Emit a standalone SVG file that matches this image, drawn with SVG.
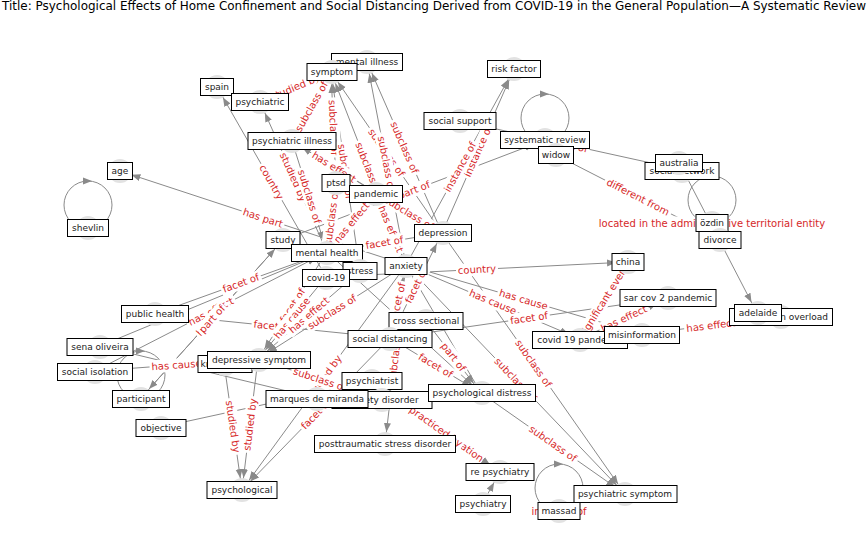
<svg xmlns="http://www.w3.org/2000/svg" width="868" height="559" viewBox="0 0 868 559">
<style>
.e line{stroke:#8a8a8a;stroke-width:1;fill:none;marker-end:url(#a)}
.e circle{stroke:#8a8a8a;stroke-width:1;fill:none}
.e polygon{fill:#8a8a8a}
.l rect{fill:#fff}
.l text{font-family:"DejaVu Sans",sans-serif;font-size:10px;fill:#d62728;text-anchor:middle}
.n circle{fill:#e2e2e2}
.n rect{fill:#fff;stroke:#000;stroke-width:1}
.n text{font-family:"DejaVu Sans",sans-serif;font-size:9px;fill:#222;text-anchor:middle}
.t{font-family:"DejaVu Sans",sans-serif;font-size:12px;fill:#000;text-anchor:middle}
</style>
<defs>
<marker id="a" markerUnits="userSpaceOnUse" markerWidth="10" markerHeight="8" refX="21" refY="3.5" orient="auto"><path d="M0,0 L9,3.5 L0,7 z" fill="#8a8a8a"/></marker>
</defs>
<rect width="868" height="559" fill="#fff"/>
<text class="t" x="434" y="10" textLength="864" lengthAdjust="spacingAndGlyphs">Title: Psychological Effects of Home Confinement and Social Distancing Derived from COVID-19 in the General Population—A Systematic Review</text>
<g id="connectors" class="e">
<line x1="326" y1="277" x2="217" y2="87"/>
<line x1="327" y1="252" x2="260" y2="102"/>
<line x1="331" y1="72" x2="260" y2="102"/>
<line x1="331" y1="72" x2="292" y2="141"/>
<line x1="336" y1="183" x2="331" y2="72"/>
<line x1="360" y1="271" x2="331" y2="72"/>
<line x1="406" y1="265" x2="331" y2="72"/>
<line x1="442" y1="233" x2="331" y2="72"/>
<line x1="442" y1="233" x2="367" y2="62"/>
<line x1="406" y1="265" x2="367" y2="62"/>
<line x1="442" y1="233" x2="514" y2="69"/>
<line x1="406" y1="265" x2="514" y2="69"/>
<line x1="283" y1="240" x2="545" y2="140"/>
<line x1="460" y1="121" x2="683" y2="170"/>
<line x1="556" y1="155" x2="720" y2="239"/>
<line x1="683" y1="170" x2="757" y2="313"/>
<line x1="641" y1="334" x2="781" y2="317"/>
<line x1="580" y1="339" x2="628" y2="262"/>
<line x1="580" y1="339" x2="668" y2="298"/>
<line x1="326" y1="277" x2="628" y2="262"/>
<line x1="406" y1="265" x2="641" y2="334"/>
<line x1="406" y1="265" x2="580" y2="339"/>
<line x1="390" y1="338" x2="668" y2="298"/>
<line x1="442" y1="233" x2="625" y2="494"/>
<line x1="406" y1="265" x2="625" y2="494"/>
<line x1="481" y1="393" x2="625" y2="494"/>
<line x1="224" y1="363" x2="242" y2="490"/>
<line x1="258" y1="359" x2="242" y2="490"/>
<line x1="406" y1="265" x2="242" y2="490"/>
<line x1="390" y1="338" x2="242" y2="490"/>
<line x1="283" y1="240" x2="141" y2="398"/>
<line x1="141" y1="398" x2="283" y2="240"/>
<line x1="155" y1="314" x2="327" y2="252"/>
<line x1="155" y1="314" x2="390" y2="338"/>
<line x1="95" y1="371" x2="327" y2="252"/>
<line x1="100" y1="346" x2="327" y2="252"/>
<line x1="95" y1="371" x2="258" y2="359"/>
<line x1="316" y1="398" x2="100" y2="346"/>
<line x1="326" y1="277" x2="258" y2="359"/>
<line x1="327" y1="252" x2="258" y2="359"/>
<line x1="360" y1="271" x2="258" y2="359"/>
<line x1="406" y1="265" x2="258" y2="359"/>
<line x1="376" y1="193" x2="327" y2="252"/>
<line x1="376" y1="193" x2="406" y2="265"/>
<line x1="336" y1="183" x2="327" y2="252"/>
<line x1="292" y1="141" x2="327" y2="252"/>
<line x1="376" y1="193" x2="292" y2="141"/>
<line x1="292" y1="141" x2="442" y2="233"/>
<line x1="406" y1="265" x2="120" y2="171"/>
<line x1="390" y1="338" x2="442" y2="233"/>
<line x1="390" y1="338" x2="406" y2="265"/>
<line x1="481" y1="393" x2="406" y2="265"/>
<line x1="426" y1="321" x2="481" y2="393"/>
<line x1="390" y1="338" x2="481" y2="393"/>
<line x1="327" y1="252" x2="481" y2="393"/>
<line x1="372" y1="381" x2="500" y2="472"/>
<line x1="500" y1="472" x2="372" y2="381"/>
<line x1="482" y1="504" x2="500" y2="472"/>
<line x1="406" y1="265" x2="385" y2="444"/>
<line x1="161" y1="427" x2="372" y2="381"/>
<line x1="258" y1="359" x2="382" y2="400"/>
<line x1="376" y1="193" x2="442" y2="233"/>
<line x1="327" y1="252" x2="442" y2="233"/>
<circle cx="88" cy="205" r="24"/><polygon points="83,177.5 92,181 83,184.5"/>
<circle cx="545" cy="118" r="24"/><polygon points="540,90.5 549,94 540,97.5"/>
<circle cx="712" cy="200" r="24"/><polygon points="707,172.5 716,176 707,179.5"/>
<circle cx="559" cy="488" r="24"/><polygon points="554,460.5 563,464 554,467.5"/>
<circle cx="141" cy="375" r="24"/><polygon points="136,347.5 145,351 136,354.5"/>
</g>
<g id="edge-labels" class="l">
<g transform="translate(271.5,182) rotate(60.2)"><rect x="-21" y="-6.5" width="42" height="13"/><text y="3.5">country</text></g>
<g transform="translate(293.5,177) rotate(65.9)"><rect x="-28.5" y="-6.5" width="57" height="13"/><text y="3.5">studied by</text></g>
<g transform="translate(295.5,87) rotate(-22.9)"><rect x="-28.5" y="-6.5" width="57" height="13"/><text y="3.5">studied by</text></g>
<g transform="translate(311.5,106.5) rotate(-60.5)"><rect x="-30" y="-6.5" width="60" height="13"/><text y="3.5">subclass of</text></g>
<g transform="translate(333.5,127.5) rotate(87.4)"><rect x="-30" y="-6.5" width="60" height="13"/><text y="3.5">subclass of</text></g>
<g transform="translate(345.5,171.5) rotate(81.7)"><rect x="-30" y="-6.5" width="60" height="13"/><text y="3.5">subclass of</text></g>
<g transform="translate(368.5,168.5) rotate(68.8)"><rect x="-30" y="-6.5" width="60" height="13"/><text y="3.5">subclass of</text></g>
<g transform="translate(386.5,152.5) rotate(55.4)"><rect x="-30" y="-6.5" width="60" height="13"/><text y="3.5">subclass of</text></g>
<g transform="translate(404.5,147.5) rotate(66.3)"><rect x="-30" y="-6.5" width="60" height="13"/><text y="3.5">subclass of</text></g>
<g transform="translate(386.5,163.5) rotate(79.1)"><rect x="-30" y="-6.5" width="60" height="13"/><text y="3.5">subclass of</text></g>
<g transform="translate(478,151) rotate(-66.3)"><rect x="-29.5" y="-6.5" width="59" height="13"/><text y="3.5">instance of</text></g>
<g transform="translate(460,167) rotate(-61.1)"><rect x="-29.5" y="-6.5" width="59" height="13"/><text y="3.5">instance of</text></g>
<g transform="translate(414,190) rotate(-20.9)"><rect x="-18.5" y="-6.5" width="37" height="13"/><text y="3.5">part of</text></g>
<g transform="translate(571.5,145.5) rotate(12.4)"><rect x="-18.5" y="-6.5" width="37" height="13"/><text y="3.5">part of</text></g>
<g transform="translate(638,197) rotate(27.1)"><rect x="-37" y="-6.5" width="74" height="13"/><text y="3.5">different from</text></g>
<g transform="translate(712,223)"><rect x="-116" y="-6.5" width="232" height="13"/><text y="3.5">located in the administrative territorial entity</text></g>
<g transform="translate(711,325.5) rotate(-6.9)"><rect x="-27" y="-6.5" width="54" height="13"/><text y="3.5">has effect</text></g>
<g transform="translate(604,300.5) rotate(-58.1)"><rect x="-43.5" y="-6.5" width="87" height="13"/><text y="3.5">significant event</text></g>
<g transform="translate(624,318.5) rotate(-25)"><rect x="-27" y="-6.5" width="54" height="13"/><text y="3.5">has effect</text></g>
<g transform="translate(477,269.5) rotate(-2.8)"><rect x="-21" y="-6.5" width="42" height="13"/><text y="3.5">country</text></g>
<g transform="translate(523.5,299.5) rotate(16.4)"><rect x="-27" y="-6.5" width="54" height="13"/><text y="3.5">has cause</text></g>
<g transform="translate(493,302) rotate(23)"><rect x="-27" y="-6.5" width="54" height="13"/><text y="3.5">has cause</text></g>
<g transform="translate(529,318) rotate(-8.2)"><rect x="-21" y="-6.5" width="42" height="13"/><text y="3.5">facet of</text></g>
<g transform="translate(533.5,363.5) rotate(55)"><rect x="-30" y="-6.5" width="60" height="13"/><text y="3.5">subclass of</text></g>
<g transform="translate(515.5,379.5) rotate(46.3)"><rect x="-30" y="-6.5" width="60" height="13"/><text y="3.5">subclass of</text></g>
<g transform="translate(553,443.5) rotate(35)"><rect x="-30" y="-6.5" width="60" height="13"/><text y="3.5">subclass of</text></g>
<g transform="translate(559,511)"><rect x="-29.5" y="-6.5" width="59" height="13"/><text y="3.5">instance of</text></g>
<g transform="translate(233,426.5) rotate(81.9)"><rect x="-28.5" y="-6.5" width="57" height="13"/><text y="3.5">studied by</text></g>
<g transform="translate(250,424.5) rotate(-83)"><rect x="-28.5" y="-6.5" width="57" height="13"/><text y="3.5">studied by</text></g>
<g transform="translate(324,377.5) rotate(-53.9)"><rect x="-28.5" y="-6.5" width="57" height="13"/><text y="3.5">studied by</text></g>
<g transform="translate(316,414) rotate(-45.8)"><rect x="-21" y="-6.5" width="42" height="13"/><text y="3.5">facet of</text></g>
<g transform="translate(211,311.5) rotate(-27.2)"><rect x="-27" y="-6.5" width="54" height="13"/><text y="3.5">has effect</text></g>
<g transform="translate(212,319) rotate(-48.1)"><rect x="-22.5" y="-6.5" width="45" height="13"/><text y="3.5">has part</text></g>
<g transform="translate(212,319) rotate(-48.1)"><rect x="-18.5" y="-6.5" width="37" height="13"/><text y="3.5">part of</text></g>
<g transform="translate(241,283) rotate(-19.8)"><rect x="-21" y="-6.5" width="42" height="13"/><text y="3.5">facet of</text></g>
<g transform="translate(272.5,326) rotate(5.8)"><rect x="-21" y="-6.5" width="42" height="13"/><text y="3.5">facet of</text></g>
<g transform="translate(176.5,365) rotate(-4.2)"><rect x="-27" y="-6.5" width="54" height="13"/><text y="3.5">has cause</text></g>
<g transform="translate(292.5,305.5) rotate(-57.2)"><rect x="-21" y="-6.5" width="42" height="13"/><text y="3.5">facet of</text></g>
<g transform="translate(292,318) rotate(-50.3)"><rect x="-27" y="-6.5" width="54" height="13"/><text y="3.5">has cause</text></g>
<g transform="translate(309,315) rotate(-40.8)"><rect x="-27" y="-6.5" width="54" height="13"/><text y="3.5">has effect</text></g>
<g transform="translate(332,312) rotate(-32.4)"><rect x="-30" y="-6.5" width="60" height="13"/><text y="3.5">subclass of</text></g>
<g transform="translate(351.5,222.5) rotate(-50.3)"><rect x="-27" y="-6.5" width="54" height="13"/><text y="3.5">has effect</text></g>
<g transform="translate(391,229) rotate(67.4)"><rect x="-27" y="-6.5" width="54" height="13"/><text y="3.5">has effect</text></g>
<g transform="translate(331.5,217.5) rotate(-82.6)"><rect x="-30" y="-6.5" width="60" height="13"/><text y="3.5">subclass of</text></g>
<g transform="translate(309.5,196.5) rotate(72.5)"><rect x="-30" y="-6.5" width="60" height="13"/><text y="3.5">subclass of</text></g>
<g transform="translate(334,167) rotate(31.8)"><rect x="-27" y="-6.5" width="54" height="13"/><text y="3.5">has effect</text></g>
<g transform="translate(263,218) rotate(18.2)"><rect x="-22.5" y="-6.5" width="45" height="13"/><text y="3.5">has part</text></g>
<g transform="translate(416,285.5) rotate(-63.7)"><rect x="-21" y="-6.5" width="42" height="13"/><text y="3.5">facet of</text></g>
<g transform="translate(398,301.5) rotate(-77.6)"><rect x="-21" y="-6.5" width="42" height="13"/><text y="3.5">facet of</text></g>
<g transform="translate(453.5,357) rotate(52.6)"><rect x="-18.5" y="-6.5" width="37" height="13"/><text y="3.5">part of</text></g>
<g transform="translate(435.5,365.5) rotate(31.1)"><rect x="-21" y="-6.5" width="42" height="13"/><text y="3.5">facet of</text></g>
<g transform="translate(436,426.5) rotate(35.4)"><rect x="-57.5" y="-6.5" width="115" height="13"/><text y="3.5">field of this occupation</text></g>
<g transform="translate(436,426.5) rotate(35.4)"><rect x="-33" y="-6.5" width="66" height="13"/><text y="3.5">practiced by</text></g>
<g transform="translate(395.5,354.5) rotate(-83.3)"><rect x="-30" y="-6.5" width="60" height="13"/><text y="3.5">subclass of</text></g>
<g transform="translate(320,379.5) rotate(18.3)"><rect x="-30" y="-6.5" width="60" height="13"/><text y="3.5">subclass of</text></g>
<g transform="translate(409,213) rotate(31.2)"><rect x="-30" y="-6.5" width="60" height="13"/><text y="3.5">subclass of</text></g>
<g transform="translate(384.5,242.5) rotate(-9.4)"><rect x="-21" y="-6.5" width="42" height="13"/><text y="3.5">facet of</text></g>
</g>
<g id="nodes" class="n">
<g id="n-spain"><circle cx="217" cy="87" r="12"/><rect x="200.5" y="78.5" width="33" height="17"/><text x="217" y="90">spain</text></g>
<g id="n-psychiatric"><circle cx="260" cy="102" r="12"/><rect x="231.5" y="93.5" width="57" height="17"/><text x="260" y="105">psychiatric</text></g>
<g id="n-mental-illness"><circle cx="367" cy="62" r="12"/><rect x="331.5" y="53.5" width="71" height="17"/><text x="367" y="65">mental illness</text></g>
<g id="n-symptom"><circle cx="332" cy="72" r="12"/><rect x="307" y="63.5" width="50" height="17"/><text x="332" y="75">symptom</text></g>
<g id="n-risk-factor"><circle cx="514" cy="69" r="12"/><rect x="487.5" y="60.5" width="53" height="17"/><text x="514" y="72">risk factor</text></g>
<g id="n-social-support"><circle cx="460" cy="121" r="12"/><rect x="424" y="112.5" width="72" height="17"/><text x="460" y="124">social support</text></g>
<g id="n-systematic-review"><circle cx="545" cy="140" r="12"/><rect x="500.5" y="131.5" width="89" height="17"/><text x="545" y="143">systematic review</text></g>
<g id="n-widow"><circle cx="556" cy="155" r="12"/><rect x="538.5" y="146.5" width="35" height="17"/><text x="556" y="158">widow</text></g>
<g id="n-social-network"><circle cx="682" cy="171" r="12"/><rect x="645" y="162.5" width="74" height="17"/><text x="682" y="174">social network</text></g>
<g id="n-australia"><circle cx="679" cy="163" r="12"/><rect x="655.5" y="154.5" width="47" height="17"/><text x="679" y="166">australia</text></g>
<g id="n-age"><circle cx="120" cy="171" r="12"/><rect x="107.5" y="162.5" width="25" height="17"/><text x="120" y="174">age</text></g>
<g id="n-psychiatric-illness"><circle cx="292" cy="141" r="12"/><rect x="248" y="132.5" width="88" height="17"/><text x="292" y="144">psychiatric illness</text></g>
<g id="n-ptsd"><circle cx="336" cy="183" r="12"/><rect x="322" y="174.5" width="28" height="17"/><text x="336" y="186">ptsd</text></g>
<g id="n-pandemic"><circle cx="376" cy="194" r="12"/><rect x="349.5" y="185.5" width="53" height="17"/><text x="376" y="197">pandemic</text></g>
<g id="n-shevlin"><circle cx="88" cy="228" r="12"/><rect x="67.5" y="219.5" width="41" height="17"/><text x="88" y="231">shevlin</text></g>
<g id="n-ozdin"><circle cx="712" cy="223" r="12"/><rect x="696" y="214.5" width="32" height="17"/><text x="712" y="226">özdin</text></g>
<g id="n-divorce"><circle cx="720" cy="240" r="12"/><rect x="699" y="231.5" width="42" height="17"/><text x="720" y="243">divorce</text></g>
<g id="n-study"><circle cx="283" cy="240" r="12"/><rect x="266" y="231.5" width="34" height="17"/><text x="283" y="243">study</text></g>
<g id="n-depression"><circle cx="443" cy="233" r="12"/><rect x="414.5" y="224.5" width="57" height="17"/><text x="443" y="236">depression</text></g>
<g id="n-mental-health"><circle cx="327" cy="253" r="12"/><rect x="291.5" y="244.5" width="71" height="17"/><text x="327" y="256">mental health</text></g>
<g id="n-stress"><circle cx="360" cy="271" r="12"/><rect x="343" y="262.5" width="34" height="17"/><text x="360" y="274">stress</text></g>
<g id="n-covid-19"><circle cx="326" cy="278" r="12"/><rect x="302.5" y="269.5" width="47" height="17"/><text x="326" y="281">covid-19</text></g>
<g id="n-anxiety"><circle cx="406" cy="266" r="12"/><rect x="385" y="257.5" width="42" height="17"/><text x="406" y="269">anxiety</text></g>
<g id="n-china"><circle cx="628" cy="262" r="12"/><rect x="612" y="253.5" width="32" height="17"/><text x="628" y="265">china</text></g>
<g id="n-sar-cov-2-pandemic"><circle cx="668" cy="298" r="12"/><rect x="620" y="289.5" width="96" height="17"/><text x="668" y="301">sar cov 2 pandemic</text></g>
<g id="n-public-health"><circle cx="155" cy="314" r="12"/><rect x="121.5" y="305.5" width="67" height="17"/><text x="155" y="317">public health</text></g>
<g id="n-information-overload"><circle cx="781" cy="317" r="12"/><rect x="729.5" y="308.5" width="103" height="17"/><text x="781" y="320">information overload</text></g>
<g id="n-adelaide"><circle cx="758" cy="313" r="12"/><rect x="734.5" y="304.5" width="47" height="17"/><text x="758" y="316">adelaide</text></g>
<g id="n-cross-sectional"><circle cx="426" cy="321" r="12"/><rect x="389" y="312.5" width="74" height="17"/><text x="426" y="324">cross sectional</text></g>
<g id="n-covid-19-pandemic"><circle cx="580" cy="340" r="12"/><rect x="532.5" y="331.5" width="95" height="17"/><text x="580" y="343">covid 19 pandemic</text></g>
<g id="n-misinformation"><circle cx="642" cy="335" r="12"/><rect x="604.5" y="326.5" width="75" height="17"/><text x="642" y="338">misinformation</text></g>
<g id="n-social-distancing"><circle cx="390" cy="339" r="12"/><rect x="348" y="330.5" width="84" height="17"/><text x="390" y="342">social distancing</text></g>
<g id="n-sena-oliveira"><circle cx="100" cy="347" r="12"/><rect x="67" y="338.5" width="66" height="17"/><text x="100" y="350">sena oliveira</text></g>
<g id="n-social-isolation"><circle cx="95" cy="372" r="12"/><rect x="57.5" y="363.5" width="75" height="17"/><text x="95" y="375">social isolation</text></g>
<g id="n-knowledge"><circle cx="225" cy="364" r="12"/><rect x="198" y="355.5" width="54" height="17"/><text x="225" y="367">knowledge</text></g>
<g id="n-depressive-symptom"><circle cx="259" cy="360" r="12"/><rect x="207.5" y="351.5" width="103" height="17"/><text x="259" y="363">depressive symptom</text></g>
<g id="n-participant"><circle cx="141" cy="399" r="12"/><rect x="112.5" y="390.5" width="57" height="17"/><text x="141" y="402">participant</text></g>
<g id="n-psychiatrist"><circle cx="372" cy="381" r="12"/><rect x="342" y="372.5" width="60" height="17"/><text x="372" y="384">psychiatrist</text></g>
<g id="n-anxiety-disorder"><circle cx="382" cy="400" r="12"/><rect x="332" y="391.5" width="100" height="17"/><text x="382" y="403">anxiety disorder</text></g>
<g id="n-marques-de-miranda"><circle cx="317" cy="399" r="12"/><rect x="266" y="390.5" width="102" height="17"/><text x="317" y="402">marques de miranda</text></g>
<g id="n-psychological-distress"><circle cx="482" cy="393" r="12"/><rect x="428.5" y="384.5" width="107" height="17"/><text x="482" y="396">psychological distress</text></g>
<g id="n-objective"><circle cx="161" cy="428" r="12"/><rect x="136" y="419.5" width="50" height="17"/><text x="161" y="431">objective</text></g>
<g id="n-posttraumatic-stress-disorder"><circle cx="385" cy="444" r="12"/><rect x="314.5" y="435.5" width="141" height="17"/><text x="385" y="447">posttraumatic stress disorder</text></g>
<g id="n-re-psychiatry"><circle cx="500" cy="472" r="12"/><rect x="466" y="463.5" width="68" height="17"/><text x="500" y="475">re psychiatry</text></g>
<g id="n-psychological"><circle cx="242" cy="490" r="12"/><rect x="207" y="481.5" width="70" height="17"/><text x="242" y="493">psychological</text></g>
<g id="n-psychiatry"><circle cx="483" cy="504" r="12"/><rect x="455.5" y="495.5" width="55" height="17"/><text x="483" y="507">psychiatry</text></g>
<g id="n-psychiatric-symptom"><circle cx="625" cy="494" r="12"/><rect x="574" y="485.5" width="103" height="17"/><text x="625" y="497">psychiatric symptom</text></g>
<g id="n-massad"><circle cx="559" cy="511" r="12"/><rect x="538" y="502.5" width="42" height="17"/><text x="559" y="514">massad</text></g>
</g>
</svg>
